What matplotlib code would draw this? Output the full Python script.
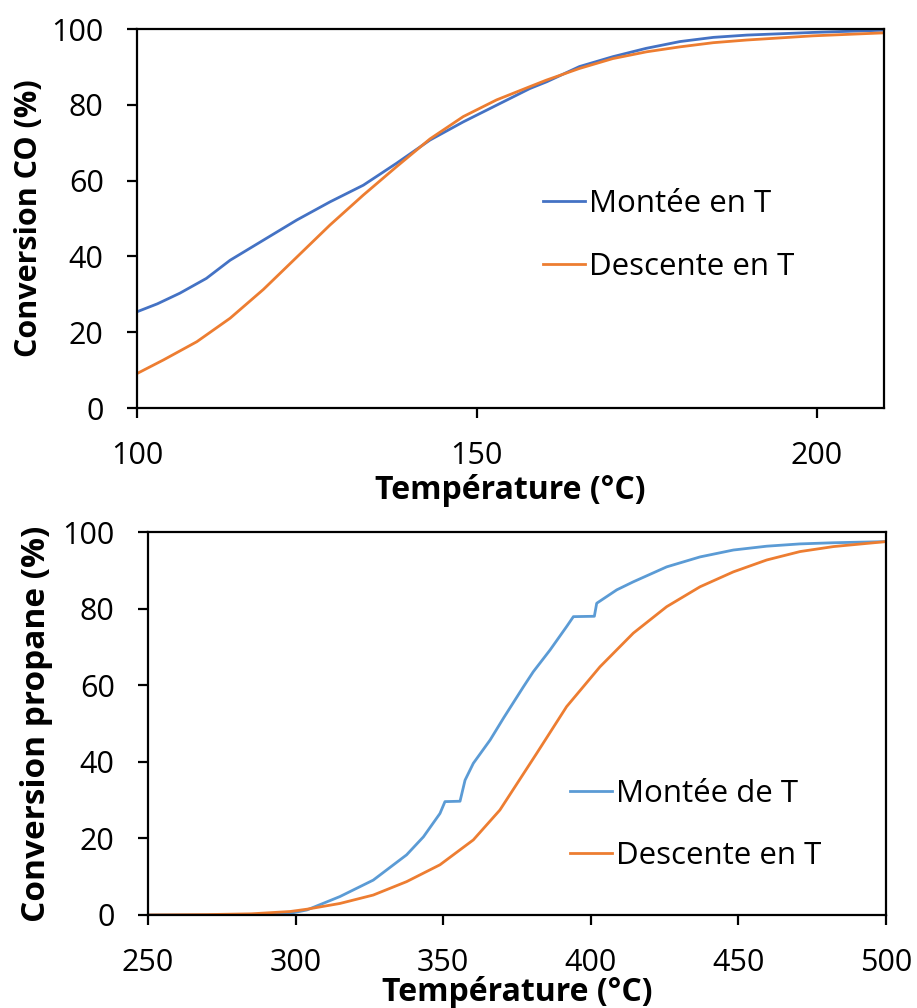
import matplotlib
matplotlib.use("Agg")
import matplotlib.pyplot as plt

plt.rcParams['font.family'] = ['Open Sans', 'DejaVu Sans']

# CO oxidation, top panel
co_up_T = [100, 103, 106.3, 110.2, 113.7, 118.6, 123.5, 128.4, 133.3, 138.2, 143.1,
           148.0, 152.9, 157.8, 160.3, 165.1, 170, 174.9, 179.9, 184.8, 189.7, 199.4, 210]
co_up_v = [25.4, 27.5, 30.3, 34.2, 39.0, 44.3, 49.6, 54.4, 58.8, 64.6, 70.7,
           75.5, 79.9, 84.3, 86.1, 90.1, 92.7, 94.9, 96.7, 97.8, 98.4, 99.1, 99.7]
co_down_T = [100, 103.9, 108.8, 113.7, 118.6, 123.5, 128.4, 133.3, 138.2, 143.1, 148.0,
             152.9, 157.8, 160.2, 165.1, 170, 175, 179.9, 184.8, 189.7, 199.4, 210]
co_down_v = [9.1, 12.7, 17.5, 23.7, 31.3, 39.8, 48.3, 56.2, 63.7, 71.0, 76.9,
             81.3, 84.8, 86.5, 89.6, 92.2, 94.0, 95.3, 96.4, 97.1, 98.2, 99.0]

# propane oxidation, bottom panel
pr_up_T = [250, 270, 290, 298, 303.8, 315, 326.3, 337.6, 343.3, 348.9, 350.6, 355.7,
           357.4, 360.2, 365.9, 370.5, 377.1, 380.5, 386.2, 391.8, 394.1, 401.2, 402,
           408.8, 414.4, 425.7, 437, 448.3, 459.6, 470.9, 482.2, 500]
pr_up_v = [0, 0, 0.1, 0.4, 1.3, 4.8, 9.1, 15.7, 20.4, 26.5, 29.6, 29.7,
           35.2, 39.6, 45.7, 51.5, 59.5, 63.5, 69.2, 75.3, 77.9, 78.0, 81.4,
           84.9, 87.0, 90.9, 93.5, 95.3, 96.3, 96.9, 97.2, 97.5]
pr_down_T = [250, 270, 285, 298.1, 303.8, 315, 326.3, 337.6, 348.9, 360.2, 369.2,
             381.5, 391.8, 403.1, 414.4, 425.7, 437, 448.3, 459.6, 470.9, 482.2, 500]
pr_down_v = [0, 0.1, 0.3, 0.9, 1.5, 3.0, 5.2, 8.7, 13.1, 19.6, 27.4,
             42.0, 54.4, 64.8, 73.6, 80.5, 85.7, 89.6, 92.7, 94.9, 96.2, 97.5]

fig = plt.figure(figsize=(9.17, 10.08), dpi=100)
ax1 = fig.add_axes([0.1494, 0.5952, 0.8146, 0.3760])
ax2 = fig.add_axes([0.1614, 0.0923, 0.8048, 0.3799])

ax1.plot(co_up_T, co_up_v, color="#4472C4", lw=2.0, label="Montée en T")
ax1.plot(co_down_T, co_down_v, color="#ED7D31", lw=2.0, label="Descente en T")
ax1.set_xlim(100, 209.9)
ax1.set_xticks([100, 150, 200])
ax1.set_ylabel("Conversion CO (%)", fontsize=22, fontweight="bold")
ax1.set_xlabel("Température (°C)", fontsize=23, fontweight="bold")
ax1.yaxis.set_label_coords(-0.1245, 0.5)
ax1.xaxis.set_label_coords(0.5, -0.175)

ax2.plot(pr_up_T, pr_up_v, color="#5B9BD5", lw=2.0, label="Montée de T")
ax2.plot(pr_down_T, pr_down_v, color="#ED7D31", lw=2.0, label="Descente en T")
ax2.set_xlim(250, 500)
ax2.set_xticks([250, 300, 350, 400, 450, 500])
ax2.set_ylabel("Conversion propane (%)", fontsize=24, fontweight="bold")
ax2.set_xlabel("Température (°C)", fontsize=23, fontweight="bold")
ax2.yaxis.set_label_coords(-0.1287, 0.5)
ax2.xaxis.set_label_coords(0.5, -0.16)

for ax in (ax1, ax2):
    ax.set_ylim(0, 100)
    ax.set_yticks([0, 20, 40, 60, 80, 100])
    for s in ax.spines.values():
        s.set_linewidth(1.6)
    ax.tick_params(direction="out", length=7, width=1.6, labelsize=22)
    ax.tick_params(axis="y", pad=17)
    ax.tick_params(axis="x", pad=17)

leg_kw = dict(loc="center left", frameon=False, fontsize=22.5, borderpad=0, borderaxespad=0,
              handlelength=1.35, handletextpad=0.12, labelspacing=1.05)
ax1.legend(bbox_to_anchor=(0.5435, 0.455), **leg_kw)
ax2.legend(bbox_to_anchor=(0.572, 0.235), **leg_kw)

fig.savefig("out.png", dpi=100)
